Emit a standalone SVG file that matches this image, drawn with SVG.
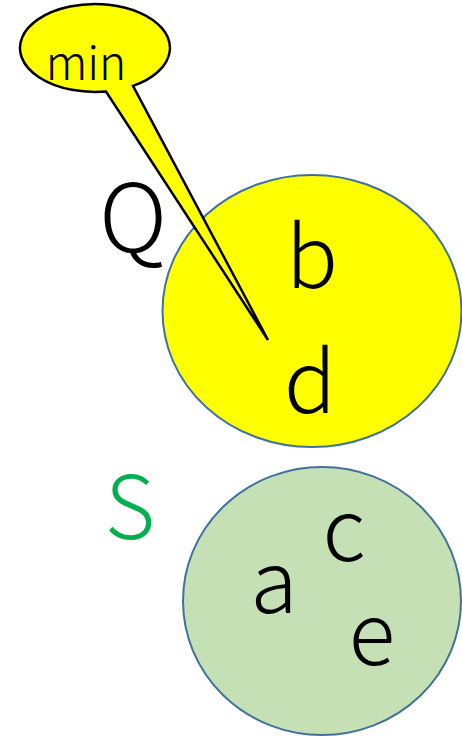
<svg xmlns="http://www.w3.org/2000/svg" width="462" height="737" viewBox="0 0 462 737">
<style>
.set{stroke:#41719C;stroke-width:2}
.lbl{font-family:"Noto Sans CJK JP","Noto Sans",sans-serif;font-weight:300;fill:#000;text-anchor:middle}
.big{font-size:86px}
</style>
<rect width="462" height="737" fill="#fff"/>
<g id="Q">
<ellipse class="set" cx="312" cy="311" rx="149.5" ry="136" fill="#FFFF00"/>
<text class="lbl big" x="312" y="288">b</text>
<text class="lbl big" x="310" y="413">d</text>
<text class="lbl" x="133" y="252" font-size="94">Q</text>
</g>
<g id="S">
<ellipse class="set" cx="322" cy="601" rx="139" ry="134" fill="#C5E0B4"/>
<text class="lbl big" x="344" y="561">c</text>
<text class="lbl big" x="274" y="613">a</text>
<text class="lbl big" x="372" y="665">e</text>
<text class="lbl" x="130" y="539" font-size="87" style="fill:#00B050">S</text>
</g>
<g id="callout">
<path d="M133 85.9 A75 44 0 1 0 106 91.5 L268 340 Z" fill="#FFFF00" stroke="#000" stroke-width="2.5" stroke-linejoin="miter"/>
<text class="lbl" x="86" y="80" font-size="46">min</text>
</g>
</svg>
